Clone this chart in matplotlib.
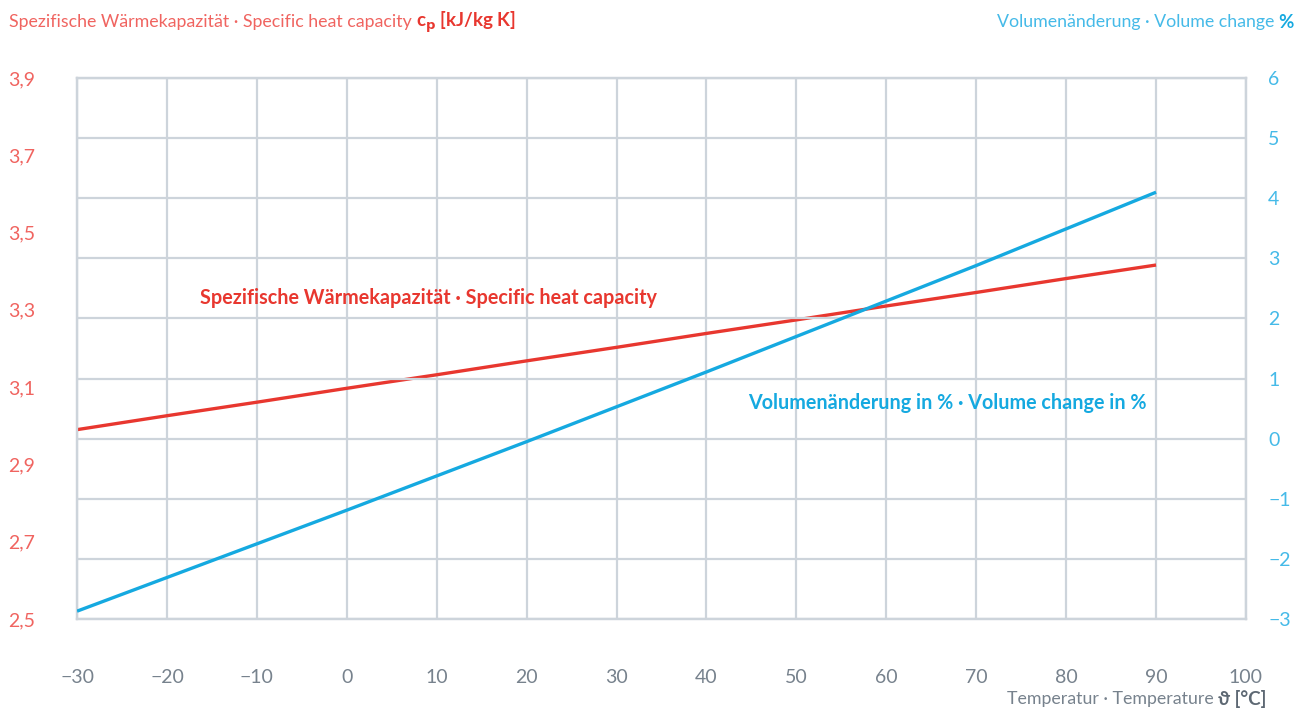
import matplotlib
matplotlib.use("Agg")
from matplotlib import pyplot as plt

# Temperatur in °C
temp = [-30, -20, -10, 0, 10, 20, 30, 40, 50, 60, 70, 80, 90]
# spezifische Wärmekapazität cp [kJ/kg K]
cp = [2.990, 3.026, 3.061, 3.097, 3.132, 3.168, 3.203, 3.239, 3.274, 3.310, 3.345, 3.381, 3.416]
# Volumenänderung in %
vol = [-2.87, -2.31, -1.75, -1.19, -0.62, -0.05, 0.53, 1.11, 1.70, 2.29, 2.88, 3.49, 4.10]

x_ticks = list(range(-30, 101, 10))
cp_ticks = [2.5, 2.7, 2.9, 3.1, 3.3, 3.5, 3.7, 3.9]
vol_ticks = list(range(-3, 7))

red = '#e8372f'
red_light = '#f06460'
blue = '#15a9e0'
blue_light = '#45bae8'
grid_c = '#cdd4db'
gray = '#77828d'

plt.rcParams['font.family'] = ['Lato', 'DejaVu Sans']

fig = plt.figure(figsize=(13.15, 7.15), dpi=100)
ax1 = fig.add_axes([0.0586, 0.1343, 0.8889, 0.7566])
ax2 = ax1.twinx()

ax1.plot(temp, cp, color=red, lw=2.4, solid_capstyle='butt', zorder=3)
ax2.plot(temp, vol, color=blue, lw=2.4, solid_capstyle='butt', zorder=3)

ax1.set_xlim(-30, 100)
ax1.set_ylim(2.5, 3.9)
ax2.set_ylim(-3, 6)

ax1.set_xticks(x_ticks)
ax1.set_xticklabels([str(v).replace('-', '\u2212') for v in x_ticks])
ax1.set_yticks(cp_ticks)
ax1.set_yticklabels([f'{v:.1f}'.replace('.', ',') for v in cp_ticks])
ax2.set_yticks(vol_ticks)
ax2.set_yticklabels([str(v).replace('-', '\u2212') for v in vol_ticks])

# Gitter: vertikal an x, horizontal an der rechten Achse
ax1.grid(axis='x', color=grid_c, lw=1.6)
ax2.grid(axis='y', color=grid_c, lw=1.6)
ax1.set_axisbelow(True)
ax2.set_axisbelow(True)
for ax in (ax1, ax2):
    for s in ax.spines.values():
        s.set_color(grid_c)
        s.set_linewidth(1.6)

ax1.tick_params(axis='x', length=0, pad=36, labelsize=14, labelcolor=gray)
ax1.tick_params(axis='y', length=0, pad=30, labelsize=14, labelcolor=red_light)
ax2.tick_params(axis='y', length=0, pad=16, labelsize=14, labelcolor=blue_light)

fig.canvas.draw()
renderer = fig.canvas.get_renderer()


def two_part(x, y, first, second, c1, c2, ha='left', s1=12.8, s2=13.5):
    # zwei Textteile nebeneinander: normal + fett
    t1 = fig.text(0, y, first, color=c1, fontsize=s1, va='center', ha='left')
    t2 = fig.text(0, y, second, color=c2, fontsize=s2, fontweight='bold',
                  va='center', ha='left')
    w1 = t1.get_window_extent(renderer).width / fig.bbox.width
    w2 = t2.get_window_extent(renderer).width / fig.bbox.width
    x0 = x if ha == 'left' else x - w1 - w2
    t1.set_x(x0)
    t2.set_x(x0 + w1)


# Achsentitel
two_part(0.007, 0.969, 'Spezifische Wärmekapazität · Specific heat capacity ',
         r'c$_\mathbf{p}$ [kJ/kg K]', red_light, red)
two_part(0.984, 0.969, 'Volumenänderung · Volume change ', '%', blue_light, blue,
         ha='right')
two_part(0.963, 0.022, 'Temperatur · Temperature ', 'ϑ [°C]', gray, '#5d6873',
         ha='right')

# Kurvenbeschriftungen
ax1.text(-16.3, 3.33, 'Spezifische Wärmekapazität · Specific heat capacity',
         color=red, fontsize=14.2, fontweight='bold', va='center', ha='left')
ax2.text(89, 0.6, 'Volumenänderung in % · Volume change in %',
         color=blue, fontsize=14.2, fontweight='bold', va='center', ha='right')

fig.savefig('out.png', dpi=100)
